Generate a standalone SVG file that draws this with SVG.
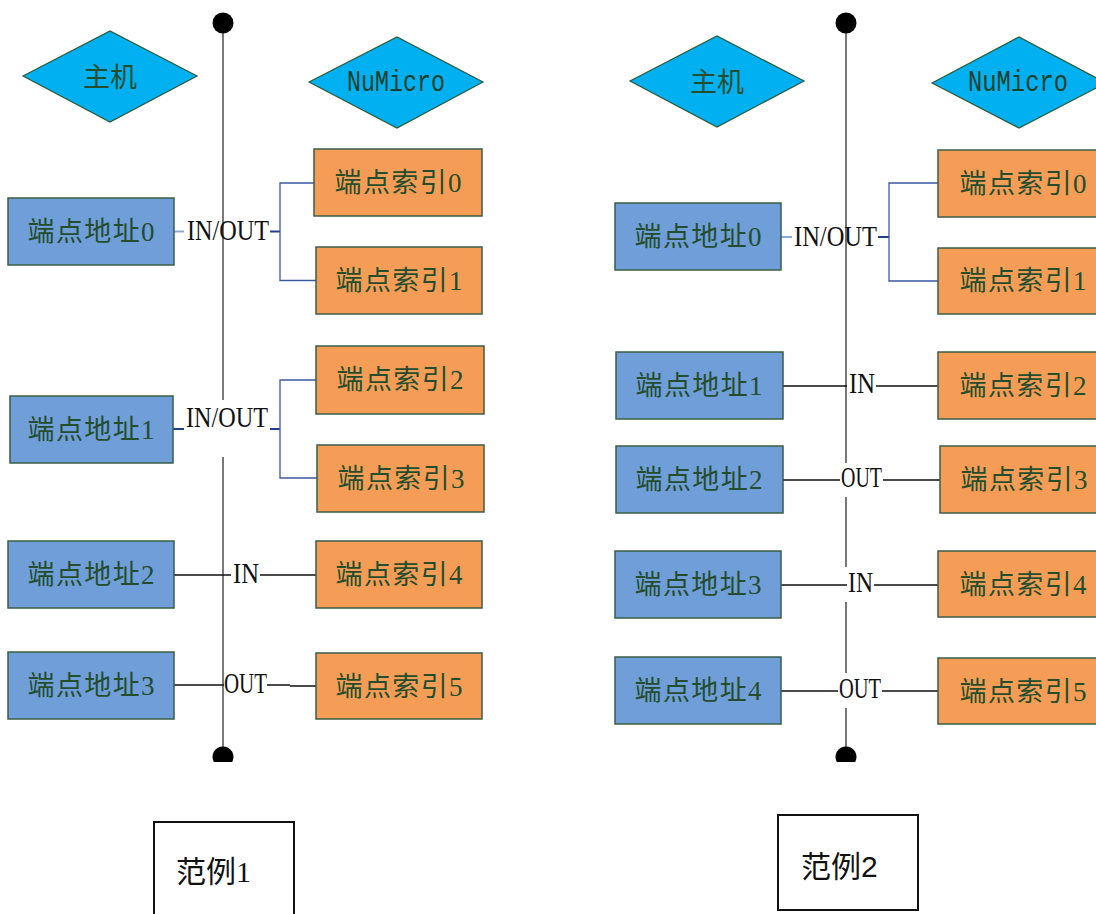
<svg xmlns="http://www.w3.org/2000/svg" width="1096" height="914" viewBox="0 0 1096 914">
<style>
.dia{fill:#00b0f0;stroke:#2b5a3a;stroke-width:1.2}
.addr{fill:#6f9ed8;stroke:#3a5f44;stroke-width:1.5}
.idx{fill:#f59d56;stroke:#3a5f44;stroke-width:1.5}
.bt{font-family:"Liberation Serif","Noto Sans CJK SC",serif;font-size:27px;fill:#234d2c;text-anchor:middle}
.dt{font-family:"Noto Sans CJK SC",sans-serif;font-size:27px;fill:#234d2c;text-anchor:middle}
.nt{font-family:"Liberation Mono",monospace;font-size:30px;fill:#1e3f2a;text-anchor:middle}
.lb{font-family:"Liberation Serif",serif;font-size:30px;fill:#111;text-anchor:start}
.bus{stroke:#7a7a7a;stroke-width:2;fill:none}
.bus2{stroke:#555;stroke-width:1.6;fill:none}
.blk{stroke:#111;stroke-width:1.3;fill:none}
.lbl{stroke:#8ea9d6;stroke-width:2;fill:none}
.dbl{stroke:#1f3f8f;stroke-width:2;fill:none}
.brk{stroke:#3a5aa0;stroke-width:1.3;fill:none}
.leg{fill:#fff;stroke:#111;stroke-width:2}
.lt{font-family:"Liberation Serif","Noto Sans CJK SC",serif;font-size:30px;fill:#111}
</style>

<g id="connectors">
  <path class="bus" d="M223 23 V400 M223 457 V757"/>
  <circle cx="223" cy="23" r="10.5" fill="#000"/>
  <path d="M213.77 762 A10.5 10.5 0 1 1 232.23 762 Z" fill="#000"/>
  <path class="bus2" d="M846 23 V463 M846 497 V567 M846 602 V673 M846 708 V757"/>
  <circle cx="846" cy="23" r="10.5" fill="#000"/>
  <path d="M836.77 762 A10.5 10.5 0 1 1 855.23 762 Z" fill="#000"/>

  <path class="lbl" d="M174 231.5 H184"/>
  <path class="dbl" d="M270 231.5 H280"/>
  <path class="brk" d="M314 183 H280 V280.5 H316"/>
  <path class="dbl" d="M173 429 H184"/>
  <path class="dbl" d="M270 429 H280"/>
  <path class="brk" d="M316 380 H280 V478 H317"/>
  <path class="blk" d="M174 575 H231 M260 575 H316"/>
  <path class="blk" d="M174 685 H224 M267 685 H290 M290 686 H316"/>

  <path class="lbl" d="M781 237 H792"/>
  <path class="dbl" d="M878 237 H889"/>
  <path class="brk" d="M938 183 H889 V281 H938"/>
  <path class="blk" d="M783 386 H847 M876 386 H938"/>
  <path class="blk" d="M783 480 H840 M883 480 H940"/>
  <path class="blk" d="M781 585 H847 M874 585 H938"/>
  <path class="blk" d="M781 691 H838 M882 691 H938"/>

  <text class="lb" x="187" y="240" textLength="82" lengthAdjust="spacingAndGlyphs">IN/OUT</text>
  <text class="lb" x="186" y="427" textLength="82" lengthAdjust="spacingAndGlyphs">IN/OUT</text>
  <text class="lb" x="233" y="583" textLength="26" lengthAdjust="spacingAndGlyphs">IN</text>
  <text class="lb" x="224" y="693" textLength="43" lengthAdjust="spacingAndGlyphs">OUT</text>
  <text class="lb" x="794" y="246" textLength="83" lengthAdjust="spacingAndGlyphs">IN/OUT</text>
  <text class="lb" x="849" y="393" textLength="26" lengthAdjust="spacingAndGlyphs">IN</text>
  <text class="lb" x="841" y="487" textLength="41" lengthAdjust="spacingAndGlyphs">OUT</text>
  <text class="lb" x="848" y="592" textLength="25" lengthAdjust="spacingAndGlyphs">IN</text>
  <text class="lb" x="839" y="698" textLength="42" lengthAdjust="spacingAndGlyphs">OUT</text>
</g>

<g id="host1"><polygon class="dia" points="23,76 110,31 197,76 110,122"/><text class="dt" x="110" y="87">主机</text></g>
<g id="numicro1"><polygon class="dia" points="309,82 397,37 483,82 397,128"/><text class="nt" x="396" y="91" textLength="98" lengthAdjust="spacingAndGlyphs">NuMicro</text></g>

<g id="addr1_0"><rect class="addr" x="8" y="198" width="166" height="67"/><text class="bt" x="91" y="241" textLength="127" lengthAdjust="spacing">端点地址0</text></g>
<g id="addr1_1"><rect class="addr" x="10" y="396" width="163" height="67"/><text class="bt" x="91" y="439" textLength="127" lengthAdjust="spacing">端点地址1</text></g>
<g id="addr1_2"><rect class="addr" x="8" y="541" width="166" height="67"/><text class="bt" x="91" y="584" textLength="127" lengthAdjust="spacing">端点地址2</text></g>
<g id="addr1_3"><rect class="addr" x="8" y="652" width="166" height="67"/><text class="bt" x="91" y="695" textLength="127" lengthAdjust="spacing">端点地址3</text></g>

<g id="idx1_0"><rect class="idx" x="314" y="149" width="168" height="67"/><text class="bt" x="398" y="192" textLength="127" lengthAdjust="spacing">端点索引0</text></g>
<g id="idx1_1"><rect class="idx" x="316" y="247" width="166" height="67"/><text class="bt" x="399" y="290" textLength="127" lengthAdjust="spacing">端点索引1</text></g>
<g id="idx1_2"><rect class="idx" x="316" y="346" width="168" height="68"/><text class="bt" x="400" y="389" textLength="127" lengthAdjust="spacing">端点索引2</text></g>
<g id="idx1_3"><rect class="idx" x="317" y="445" width="167" height="67"/><text class="bt" x="401" y="488" textLength="127" lengthAdjust="spacing">端点索引3</text></g>
<g id="idx1_4"><rect class="idx" x="316" y="541" width="166" height="67"/><text class="bt" x="399" y="584" textLength="127" lengthAdjust="spacing">端点索引4</text></g>
<g id="idx1_5"><rect class="idx" x="316" y="653" width="166" height="66"/><text class="bt" x="399" y="696" textLength="127" lengthAdjust="spacing">端点索引5</text></g>

<g id="host2"><polygon class="dia" points="630,81 717,36 804,81 717,127"/><text class="dt" x="717" y="92">主机</text></g>
<g id="numicro2"><polygon class="dia" points="932,83 1019,37 1106,83 1019,128"/><text class="nt" x="1018" y="91" textLength="100" lengthAdjust="spacingAndGlyphs">NuMicro</text></g>

<g id="addr2_0"><rect class="addr" x="615" y="203" width="166" height="67"/><text class="bt" x="698" y="246" textLength="127" lengthAdjust="spacing">端点地址0</text></g>
<g id="addr2_1"><rect class="addr" x="616" y="352" width="167" height="67"/><text class="bt" x="699" y="395" textLength="127" lengthAdjust="spacing">端点地址1</text></g>
<g id="addr2_2"><rect class="addr" x="616" y="446" width="167" height="67"/><text class="bt" x="699" y="489" textLength="127" lengthAdjust="spacing">端点地址2</text></g>
<g id="addr2_3"><rect class="addr" x="615" y="551" width="166" height="67"/><text class="bt" x="698" y="594" textLength="127" lengthAdjust="spacing">端点地址3</text></g>
<g id="addr2_4"><rect class="addr" x="615" y="657" width="166" height="67"/><text class="bt" x="698" y="700" textLength="127" lengthAdjust="spacing">端点地址4</text></g>

<g id="idx2_0"><rect class="idx" x="938" y="150" width="170" height="67"/><text class="bt" x="1023" y="193" textLength="127" lengthAdjust="spacing">端点索引0</text></g>
<g id="idx2_1"><rect class="idx" x="938" y="248" width="170" height="66"/><text class="bt" x="1023" y="290" textLength="127" lengthAdjust="spacing">端点索引1</text></g>
<g id="idx2_2"><rect class="idx" x="938" y="352" width="170" height="67"/><text class="bt" x="1023" y="395" textLength="127" lengthAdjust="spacing">端点索引2</text></g>
<g id="idx2_3"><rect class="idx" x="940" y="446" width="170" height="67"/><text class="bt" x="1024" y="489" textLength="127" lengthAdjust="spacing">端点索引3</text></g>
<g id="idx2_4"><rect class="idx" x="938" y="551" width="170" height="66"/><text class="bt" x="1023" y="594" textLength="127" lengthAdjust="spacing">端点索引4</text></g>
<g id="idx2_5"><rect class="idx" x="938" y="658" width="170" height="66"/><text class="bt" x="1023" y="701" textLength="127" lengthAdjust="spacing">端点索引5</text></g>

<g id="legend1"><rect class="leg" x="154" y="822" width="140" height="100"/><text class="lt" x="176" y="882">范例1</text></g>
<g id="legend2"><rect class="leg" x="778" y="815" width="140" height="95"/><text class="lt" x="801" y="877" style="font-family:'Liberation Sans','Noto Sans CJK SC',sans-serif">范例2</text></g>
</svg>
